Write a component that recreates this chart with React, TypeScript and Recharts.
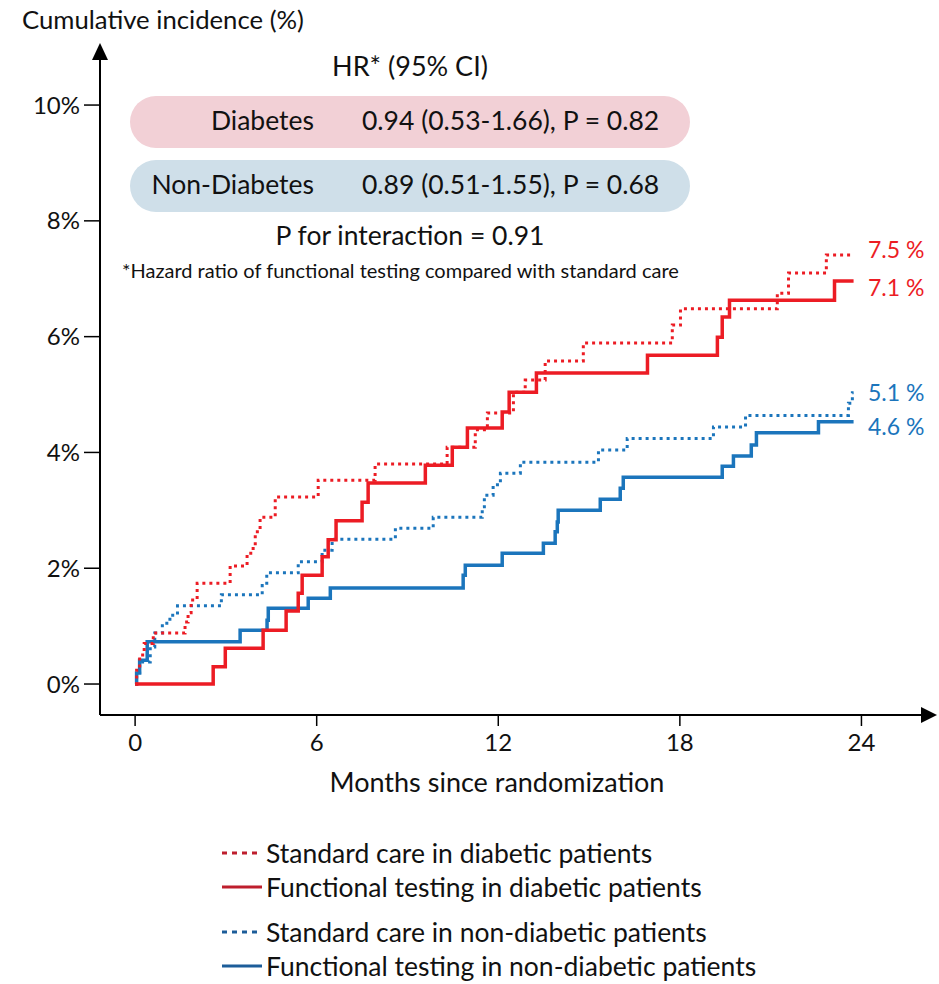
import React from 'react';
import { LineChart, Line, XAxis, YAxis, ReferenceDot } from 'recharts';

// month, cumulative incidence (%)
const stdDiabetic: [number, number][] = [
  [0, 0], [0.05, 0.24], [0.15, 0.5], [0.3, 0.7], [0.6, 0.88], [1.65, 1.07], [1.75, 1.23],
  [1.85, 1.45], [2.05, 1.74], [3.14, 2.04], [3.7, 2.26], [3.9, 2.37], [3.97, 2.63], [4.13, 2.88],
  [4.63, 3.23], [6.05, 3.52], [7.93, 3.8], [10.31, 4.09], [11.24, 4.39], [11.64, 4.68],
  [12.5, 5.04], [12.89, 5.25], [13.55, 5.58], [14.81, 5.89], [17.75, 6.2], [18.02, 6.48],
  [21.22, 6.75], [21.59, 7.1], [22.84, 7.41], [23.74, 7.41],
];
const funcDiabetic: [number, number][] = [
  [0, 0], [2.58, 0.3], [2.98, 0.62], [4.23, 0.93], [4.99, 1.26], [5.39, 1.57], [5.52, 1.88],
  [6.18, 2.2], [6.38, 2.49], [6.64, 2.82], [7.5, 3.14], [7.7, 3.47], [9.59, 3.78], [10.48, 4.09],
  [10.98, 4.42], [12.13, 4.7], [12.36, 5.04], [13.26, 5.37], [16.93, 5.68], [19.24, 5.99],
  [19.4, 6.34], [19.64, 6.63], [23.11, 6.96], [23.74, 6.96],
];
const stdNonDiabetic: [number, number][] = [
  [0, 0], [0.05, 0.2], [0.15, 0.38], [0.5, 0.64], [0.65, 0.88], [0.9, 1.05], [1.15, 1.19],
  [1.4, 1.35], [2.85, 1.54], [4.2, 1.7], [4.35, 1.92], [5.39, 2.11], [6.18, 2.31], [6.51, 2.5],
  [8.6, 2.69], [9.85, 2.88], [11.47, 3.06], [11.54, 3.26], [11.83, 3.44], [12.07, 3.64],
  [12.73, 3.83], [15.31, 4.04], [16.26, 4.24], [19.11, 4.44], [20.17, 4.64], [23.57, 4.85],
  [23.7, 5.03], [23.74, 5.03],
];
const funcNonDiabetic: [number, number][] = [
  [0, 0], [0.05, 0.19], [0.15, 0.41], [0.4, 0.73], [3.47, 0.93], [4.36, 1.1], [4.4, 1.31],
  [5.72, 1.48], [6.45, 1.66], [10.84, 1.88], [10.91, 2.05], [12.13, 2.26], [13.49, 2.43],
  [13.88, 2.63], [13.95, 2.8], [13.98, 3.0], [15.37, 3.19], [16.03, 3.38], [16.13, 3.57],
  [19.4, 3.76], [19.77, 3.94], [20.36, 4.13], [20.53, 4.34], [22.58, 4.53], [23.74, 4.53],
];

const X_TICKS = [0, 6, 12, 18, 24];
const Y_TICKS = [0, 2, 4, 6, 8, 10];
const X_MIN = -1.16;
const X_MAX = 26.1;
const Y_MIN = -0.535;
const Y_MAX = 10.83;

const END_LABELS = [
  { text: '7.5 %', top: 250, color: '#ec1c24' },
  { text: '7.1 %', top: 288, color: '#ec1c24' },
  { text: '5.1 %', top: 393, color: '#1b75bc' },
  { text: '4.6 %', top: 427, color: '#1b75bc' },
];

const LEGEND_ITEMS = [
  { label: 'Standard care in diabetic patients', color: '#be1e2d', dashed: true },
  { label: 'Functional testing in diabetic patients', color: '#be1e2d', dashed: false },
  { label: 'Standard care in non-diabetic patients', color: '#1c5d99', dashed: true },
  { label: 'Functional testing in non-diabetic patients', color: '#1c5d99', dashed: false },
];

const RED = '#ec1c24';
const BLUE = '#1b75bc';
const FONT = 'Lato, "Open Sans", sans-serif';
const TXT = '#111';

const toPoints = (arr: [number, number][]) => arr.map(([m, v]) => ({ m, v }));

const ArrowRight = (props: any) => {
  const { cx, cy } = props;
  return <polygon points={`${cx - 4},${cy - 8} ${cx + 12},${cy} ${cx - 4},${cy + 8}`} fill="#000" />;
};
const ArrowUp = (props: any) => {
  const { cx, cy } = props;
  return <polygon points={`${cx - 8},${cy + 3} ${cx},${cy - 14} ${cx + 8},${cy + 3}`} fill="#000" />;
};

const LegendBox = () => (
  <div style={{ position: 'absolute', left: 220, top: 836, fontSize: 26.5, color: TXT, whiteSpace: 'nowrap' }}>
    {LEGEND_ITEMS.map((item, i) => (
      <div
        key={item.label}
        style={{ display: 'flex', alignItems: 'center', height: 34, marginTop: i === 2 ? 11 : 0 }}
      >
        <svg width={46} height={10}>
          <line
            x1={2}
            y1={5}
            x2={42}
            y2={5}
            stroke={item.color}
            strokeWidth={3}
            strokeDasharray={item.dashed ? '5 5' : undefined}
          />
        </svg>
        <span>{item.label}</span>
      </div>
    ))}
  </div>
);

const pill = (bg: string, top: number) => ({
  position: 'absolute' as const,
  left: 130,
  top,
  width: 560,
  height: 52,
  borderRadius: 26,
  background: bg,
});

const txt = (left: number, top: number, size: number, extra: React.CSSProperties = {}) => ({
  position: 'absolute' as const,
  left,
  top,
  fontSize: size,
  color: TXT,
  whiteSpace: 'nowrap' as const,
  lineHeight: 1.2,
  ...extra,
});

export default function App() {
  return (
    <div style={{ position: 'absolute', left: 0, top: 0, width: 939, height: 984, background: '#fff', fontFamily: FONT }}>
      <LineChart width={939} height={984} margin={{ top: 57, right: 14, bottom: 189, left: 0 }}>
        <XAxis
          type="number"
          dataKey="m"
          domain={[X_MIN, X_MAX]}
          ticks={X_TICKS}
          allowDataOverflow
          height={80}
          tickSize={11}
          tickMargin={8}
          axisLine={{ stroke: '#000', strokeWidth: 2 }}
          tickLine={{ stroke: '#000', strokeWidth: 1.5 }}
          tick={{ fill: TXT, fontSize: 24, fontFamily: FONT }}
        />
        <YAxis
          type="number"
          domain={[Y_MIN, Y_MAX]}
          ticks={Y_TICKS}
          allowDataOverflow
          width={100}
          tickSize={16}
          tickMargin={4}
          tickFormatter={(v: number) => `${v}%`}
          axisLine={{ stroke: '#000', strokeWidth: 2 }}
          tickLine={{ stroke: '#000', strokeWidth: 1.5 }}
          tick={{ fill: TXT, fontSize: 24, fontFamily: FONT }}
        />
        <Line data={toPoints(stdNonDiabetic)} dataKey="v" type="stepAfter" stroke={BLUE} strokeWidth={3} strokeDasharray="3 4" dot={false} isAnimationActive={false} />
        <Line data={toPoints(funcNonDiabetic)} dataKey="v" type="stepAfter" stroke={BLUE} strokeWidth={3.5} dot={false} isAnimationActive={false} />
        <Line data={toPoints(stdDiabetic)} dataKey="v" type="stepAfter" stroke={RED} strokeWidth={3} strokeDasharray="3 4" dot={false} isAnimationActive={false} />
        <Line data={toPoints(funcDiabetic)} dataKey="v" type="stepAfter" stroke={RED} strokeWidth={3.5} dot={false} isAnimationActive={false} />
        <ReferenceDot x={X_MAX} y={Y_MIN} r={0} shape={ArrowRight} ifOverflow="visible" />
        <ReferenceDot x={X_MIN} y={Y_MAX} r={0} shape={ArrowUp} ifOverflow="visible" />
      </LineChart>

      <div style={txt(22, 4, 25.7)}>Cumulative incidence (%)</div>
      <div style={txt(230, 50, 27, { width: 360, textAlign: 'center' })}>HR* (95% CI)</div>
      <div style={pill('#f2d0d6', 96)} />
      <div style={pill('#cfdfe9', 160)} />
      <div style={txt(130, 105, 26.5, { width: 184, textAlign: 'right' })}>Diabetes</div>
      <div style={txt(362, 105, 26.5)}>0.94 (0.53-1.66), P = 0.82</div>
      <div style={txt(130, 169, 26.5, { width: 184, textAlign: 'right' })}>Non-Diabetes</div>
      <div style={txt(362, 169, 26.5)}>0.89 (0.51-1.55), P = 0.68</div>
      <div style={txt(230, 220, 26.5, { width: 360, textAlign: 'center' })}>P for interaction = 0.91</div>
      <div style={txt(122, 258, 20)}>*Hazard ratio of functional testing compared with standard care</div>
      {END_LABELS.map((l) => (
        <div key={l.text} style={txt(868, l.top - 14, 23, { color: l.color })}>
          {l.text}
        </div>
      ))}
      <div style={txt(250, 766, 27, { width: 494, textAlign: 'center' })}>Months since randomization</div>
      <LegendBox />
    </div>
  );
}
